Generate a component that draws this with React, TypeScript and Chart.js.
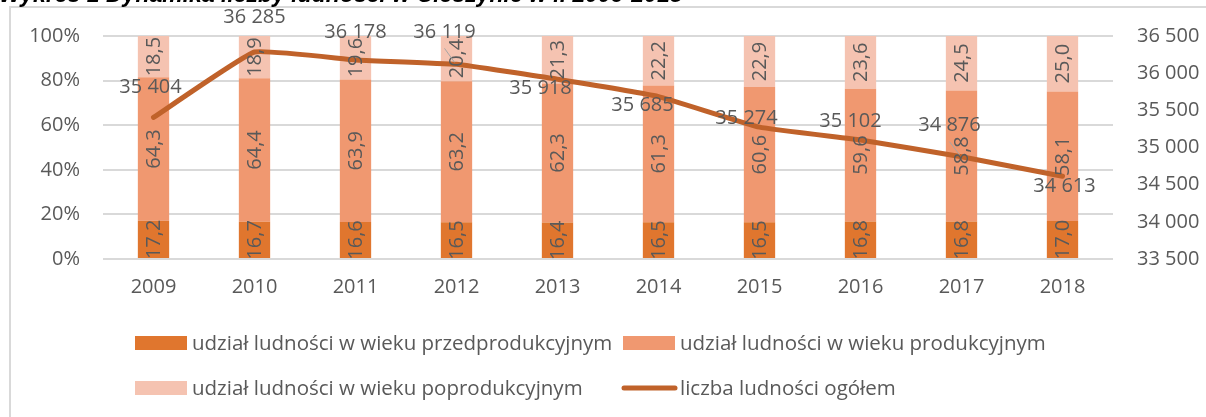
import React, { useEffect, useRef } from "react";
import { Chart, registerables } from "chart.js";

Chart.register(...registerables);

const years = ["2009", "2010", "2011", "2012", "2013", "2014", "2015", "2016", "2017", "2018"];
const sharePre = [17.2, 16.7, 16.6, 16.5, 16.4, 16.5, 16.5, 16.8, 16.8, 17.0];
const shareWorking = [64.3, 64.4, 63.9, 63.2, 62.3, 61.3, 60.6, 59.6, 58.8, 58.1];
const sharePost = [18.5, 18.9, 19.6, 20.4, 21.3, 22.2, 22.9, 23.6, 24.5, 25.0];
const totalPopulation = [35404, 36285, 36178, 36119, 35918, 35685, 35274, 35102, 34876, 34613];

const seriesNames = [
  "udział ludności w wieku przedprodukcyjnym",
  "udział ludności w wieku produkcyjnym",
  "udział ludności w wieku poprodukcyjnym",
  "liczba ludności ogółem",
];
const titleText = "Wykres 1 Dynamika liczby ludności w Cieszynie w l. 2009-2018";

// label placement (offset from point), and whether a leader line is drawn
const lineLabelOffsets: [number, number, boolean][] = [
  [-3, -30, false],
  [0, -35, false],
  [0, -28, false],
  [-12, -32, true],
  [-17, 9, false],
  [-16, 9, false],
  [-13, -9, false],
  [-10, -19, false],
  [-12, -31, true],
  [2, 10, false],
];

const C_PRE = "#E0762E";
const C_WORK = "#F09870";
const C_POST = "#F5C3B1";
const C_LINE = "#C0622A";
const TXT = "#595959";
const GRID = "#D9D9D9";
const FONT = "'Open Sans', 'Liberation Sans', sans-serif";
const W = "400";

const fmtThousands = (v: number) => {
  const s = Math.round(v).toString();
  return s.replace(/\B(?=(\d{3})+(?!\d))/g, " ");
};
const fmtDec = (v: number) => v.toFixed(1).replace(".", ",");

const decorPlugin = {
  id: "decor",
  beforeDraw(chart: any) {
    const ctx = chart.ctx;
    ctx.save();
    ctx.fillStyle = "#ffffff";
    ctx.fillRect(0, 0, chart.width, chart.height);
    ctx.strokeStyle = GRID;
    ctx.lineWidth = 2;
    ctx.strokeRect(10, 7, chart.width + 50, chart.height + 50);
    ctx.fillStyle = "#000000";
    ctx.font = "italic bold 23px 'Liberation Sans', sans-serif";
    ctx.textAlign = "left";
    ctx.textBaseline = "alphabetic";
    ctx.fillText(titleText, -1, 2, 692);
    ctx.restore();
  },
  afterDatasetsDraw(chart: any) {
    const ctx = chart.ctx;
    ctx.save();
    ctx.fillStyle = TXT;
    ctx.font = `${W} 20px ${FONT}`;
    ctx.textAlign = "center";
    ctx.textBaseline = "middle";
    for (let d = 0; d < 3; d++) {
      const meta = chart.getDatasetMeta(d);
      const data = chart.data.datasets[d].data as number[];
      meta.data.forEach((el: any, i: number) => {
        const cy = (el.y + el.base) / 2;
        ctx.save();
        ctx.translate(el.x, cy);
        ctx.rotate(-Math.PI / 2);
        ctx.fillText(fmtDec(data[i]), 0, 1);
        ctx.restore();
      });
    }
    const lm = chart.getDatasetMeta(3);
    const ld = chart.data.datasets[3].data as number[];
    lm.data.forEach((el: any, i: number) => {
      const [dx, dy, leader] = lineLabelOffsets[i];
      const lx = el.x + dx;
      const ly = el.y + dy;
      if (leader) {
        ctx.save();
        ctx.strokeStyle = "#A6A6A6";
        ctx.lineWidth = 1;
        ctx.beginPath();
        ctx.moveTo(lx, ly + 16);
        ctx.lineTo(el.x - 2, el.y - 2);
        ctx.stroke();
        ctx.restore();
      }
      ctx.fillText(fmtThousands(ld[i]), lx, ly);
    });
    ctx.restore();
  },
  afterDraw(chart: any) {
    const ctx = chart.ctx;
    ctx.save();
    ctx.font = `${W} 20.5px ${FONT}`;
    ctx.textAlign = "left";
    ctx.textBaseline = "middle";
    const items = [
      { x: 135, y: 343, color: C_PRE, line: false },
      { x: 623, y: 343, color: C_WORK, line: false },
      { x: 135, y: 388, color: C_POST, line: false },
      { x: 623, y: 388, color: C_LINE, line: true },
    ];
    items.forEach((it, i) => {
      if (it.line) {
        ctx.strokeStyle = it.color;
        ctx.lineWidth = 5;
        ctx.lineCap = "round";
        ctx.beginPath();
        ctx.moveTo(it.x + 1, it.y);
        ctx.lineTo(it.x + 52, it.y);
        ctx.stroke();
      } else {
        ctx.fillStyle = it.color;
        ctx.fillRect(it.x, it.y - 7, 52, 14);
      }
      ctx.fillStyle = TXT;
      ctx.fillText(seriesNames[i], it.x + 57, it.y + 1);
    });
    ctx.restore();
  },
};

export default function App() {
  const ref = useRef<HTMLCanvasElement | null>(null);
  useEffect(() => {
    if (!ref.current) return;
    const tickFont = { family: FONT, size: 20, weight: W as any };
    const chart = new Chart(ref.current, {
      type: "bar",
      data: {
        labels: years,
        datasets: [
          { label: seriesNames[0], data: sharePre, backgroundColor: C_PRE, yAxisID: "y", stack: "s", order: 1, barPercentage: 0.31, categoryPercentage: 1 },
          { label: seriesNames[1], data: shareWorking, backgroundColor: C_WORK, yAxisID: "y", stack: "s", order: 1, barPercentage: 0.31, categoryPercentage: 1 },
          { label: seriesNames[2], data: sharePost, backgroundColor: C_POST, yAxisID: "y", stack: "s", order: 1, barPercentage: 0.31, categoryPercentage: 1 },
          {
            type: "line",
            label: seriesNames[3],
            data: totalPopulation,
            borderColor: C_LINE,
            backgroundColor: C_LINE,
            borderWidth: 5,
            borderCapStyle: "round",
            borderJoinStyle: "round",
            pointRadius: 0,
            tension: 0.1,
            yAxisID: "y2",
            order: 0,
          } as any,
        ],
      },
      options: {
        responsive: false,
        animation: false,
        devicePixelRatio: 1,
        layout: { padding: { top: 36, left: 0, right: 0, bottom: 98 } },
        plugins: { legend: { display: false }, tooltip: { enabled: false }, title: { display: false } },
        scales: {
          x: {
            stacked: true,
            grid: { display: false, drawTicks: false },
            border: { display: false },
            ticks: { color: TXT, font: tickFont, padding: 16, maxRotation: 0 },
            afterFit: (s: any) => { s.height = 60; },
          },
          y: {
            stacked: true,
            position: "left",
            min: 0,
            max: 100,
            grid: { color: GRID, lineWidth: 2, drawTicks: false },
            border: { display: false },
            ticks: { stepSize: 20, color: TXT, font: tickFont, padding: 23, callback: (v: any) => v + "%" },
            afterFit: (s: any) => { s.width = 103; },
          },
          y2: {
            position: "right",
            min: 33500,
            max: 36500,
            grid: { display: false, drawTicks: false },
            border: { display: false },
            ticks: { stepSize: 500, color: TXT, font: tickFont, padding: 24, callback: (v: any) => fmtThousands(Number(v)) },
            afterFit: (s: any) => { s.width = 93; },
          },
        },
      },
      plugins: [decorPlugin],
    });
    return () => chart.destroy();
  }, []);
  return (
    <div style={{ position: "fixed", left: 0, top: 0, width: 1206, height: 417, background: "#fff" }}>
      <canvas ref={ref} width={1206} height={417} style={{ display: "block", width: 1206, height: 417 }} />
    </div>
  );
}
